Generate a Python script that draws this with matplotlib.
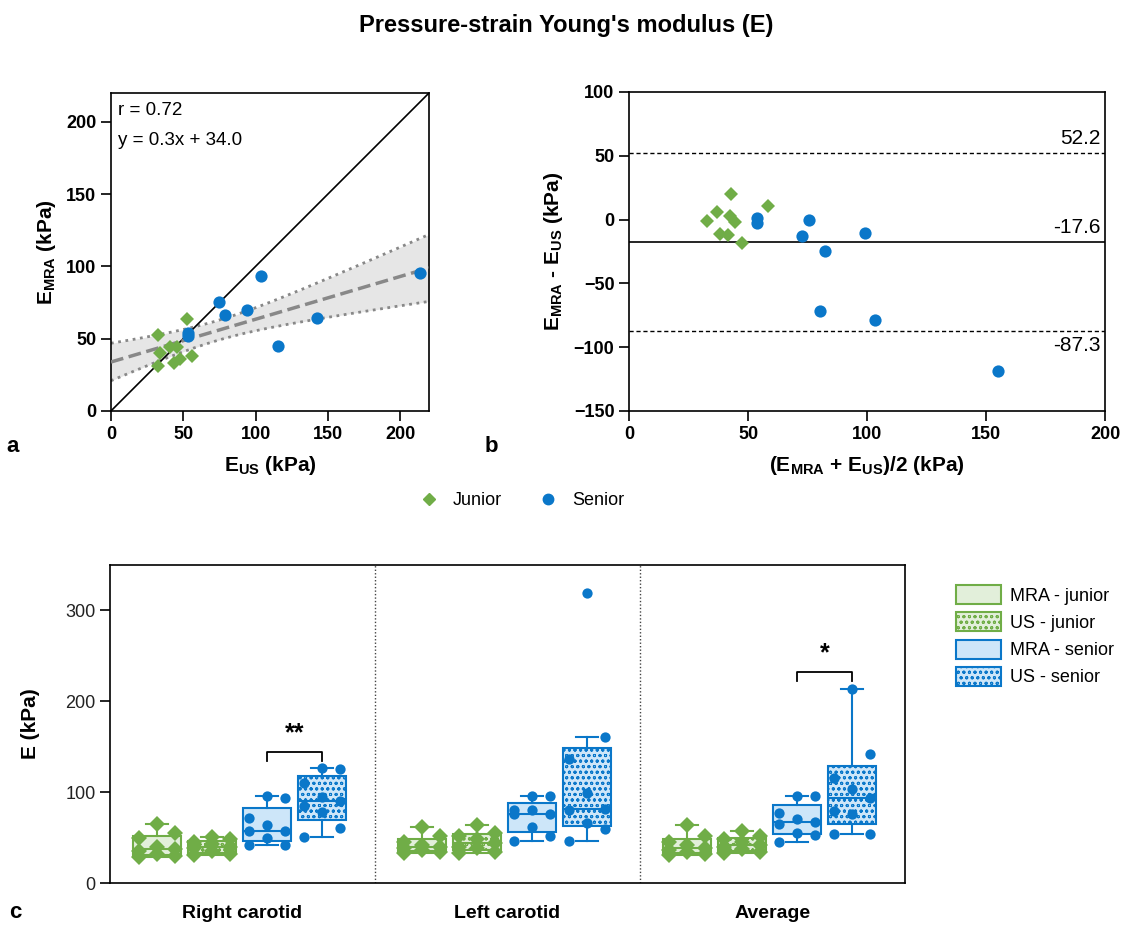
import numpy as np
import matplotlib.pyplot as plt
from matplotlib.patches import Patch
from matplotlib.lines import Line2D

plt.rcParams['font.family'] = ['Liberation Sans', 'DejaVu Sans']
plt.rcParams['mathtext.fontset'] = 'custom'
plt.rcParams['mathtext.rm'] = 'Liberation Sans'
plt.rcParams['mathtext.bf'] = 'Liberation Sans:bold'
plt.rcParams['hatch.linewidth'] = 0.7

GREEN = '#70ad47'
BLUE = '#0a77c9'
LGREEN = '#e2efda'
LBLUE = '#cde6f9'

# panel a: E_US vs E_MRA
us_junior = [52.8, 32.3, 40.8, 45.9, 33.9, 55.8, 43.6, 47.7, 32.7]
mra_junior = [63.6, 52.6, 44.5, 44.5, 39.9, 38.0, 33.0, 35.8, 31.3]
us_senior = [103.8, 213.8, 74.9, 79.1, 94.1, 142.3, 115.8, 53.5, 53.5]
mra_senior = [93.4, 95.3, 75.6, 66.4, 69.9, 64.1, 45.0, 54.2, 51.9]
fit_text = ['r = 0.72', 'y = 0.3x + 34.0']

# panel b: Bland-Altman
ba_mean_junior = [42.7, 58.4, 36.8, 32.6, 42.4, 44.5, 38.2, 41.7, 47.3]
ba_diff_junior = [19.6, 10.2, 6.0, -1.0, 2.6, -2.1, -11.0, -12.5, -18.3]
ba_mean_senior = [53.6, 53.6, 75.6, 72.8, 99.0, 82.2, 80.1, 103.2, 155.0]
ba_diff_senior = [1.3, -2.6, 0.0, -13.1, -10.4, -24.8, -71.3, -78.4, -118.6]
ba_bias = -17.6
ba_upper = 52.2
ba_lower = -87.3

# panel c: E per group
groups = ['Right carotid', 'Left carotid', 'Average']
series = ['MRA - junior', 'US - junior', 'MRA - senior', 'US - senior']
values = {
    'Right carotid': [
        [65, 55, 49, 40, 37, 35, 32, 30, 29],
        [51, 48, 45, 43, 40, 38, 35, 32, 31],
        [95.6, 94, 71.8, 63.6, 57, 57, 49.7, 42.3, 42.3],
        [126.1, 125, 109.6, 94.5, 90.1, 84.6, 78.4, 60.7, 50.4],
    ],
    'Left carotid': [
        [62, 52, 45, 42, 40, 38, 36, 34, 33],
        [64, 55, 52, 48, 44, 40, 38, 34, 33],
        [95.6, 95.6, 80.2, 79.8, 75.4, 75.4, 61.4, 51.5, 46],
        [318.7, 161.1, 136.8, 98.6, 80.9, 80.2, 65.5, 58.9, 46],
    ],
    'Average': [
        [64, 52, 45, 42, 38, 36, 34, 32, 31],
        [57, 52, 48, 45, 42, 40, 37, 34, 33],
        [95.9, 95.6, 76.5, 69.9, 66.9, 64.4, 55.2, 52.3, 45.3],
        [214, 141.6, 115.9, 103.7, 93.8, 79, 75.4, 53.4, 53.4],
    ],
}


def box_stats(v):
    v = np.sort(np.asarray(v, float))
    q1, med, q3 = np.percentile(v, [25, 50, 75], method='weibull')
    iqr = q3 - q1
    lo = v[v >= q1 - 1.5 * iqr].min()
    hi = v[v <= q3 + 1.5 * iqr].max()
    return dict(med=med, q1=q1, q3=q3, whislo=lo, whishi=hi, fliers=[])


fig = plt.figure(figsize=(11.32, 9.25), dpi=100)
fig.text(0.5, 0.972, "Pressure-strain Young's modulus (E)", ha='center', va='center',
         fontsize=17, fontweight='bold')

# ---------- panel a ----------
ax1 = fig.add_axes([0.098, 0.5557, 0.281, 0.3438])
x_all = np.array(us_junior + us_senior)
y_all = np.array(mra_junior + mra_senior)
slope, intercept = np.polyfit(x_all, y_all, 1)
n = len(x_all)
resid = y_all - (slope * x_all + intercept)
s = np.sqrt(np.sum(resid ** 2) / (n - 2))
xs = np.linspace(0, 220, 200)
se = s * np.sqrt(1 / n + (xs - x_all.mean()) ** 2 / np.sum((x_all - x_all.mean()) ** 2))
t = 2.12
yfit = slope * xs + intercept
ax1.fill_between(xs, yfit - t * se, yfit + t * se, color='#e6e6e6', lw=0, zorder=1)
ax1.plot(xs, yfit + t * se, ':', color='#888888', lw=2, zorder=2)
ax1.plot(xs, yfit - t * se, ':', color='#888888', lw=2, zorder=2)
ax1.plot(xs, yfit, '--', color='#888888', lw=2.5, zorder=3)
ax1.plot([0, 220], [0, 220], color='black', lw=1.2, zorder=2)
ax1.plot(us_junior, mra_junior, 'D', color=GREEN, ms=6.8, mew=0, zorder=4)
ax1.plot(us_senior, mra_senior, 'o', color=BLUE, ms=8.8, mew=0, zorder=4)
ax1.text(5, 208, fit_text[0], fontsize=13.5, va='center')
ax1.text(5, 187, fit_text[1], fontsize=13.5, va='center')
ax1.set_xlim(0, 220)
ax1.set_ylim(0, 220)
ax1.set_xticks([0, 50, 100, 150, 200])
ax1.set_yticks([0, 50, 100, 150, 200])
ax1.set_xlabel(r'$\mathbf{E_{US}}$ (kPa)', fontsize=15, fontweight='bold', labelpad=8)
ax1.set_ylabel(r'$\mathbf{E_{MRA}}$ (kPa)', fontsize=15, fontweight='bold', labelpad=6)

# ---------- panel b ----------
ax2 = fig.add_axes([0.5557, 0.5557, 0.4205, 0.345])
ax2.axhline(ba_upper, color='black', ls=(0, (3, 2)), lw=1)
ax2.axhline(ba_lower, color='black', ls=(0, (3, 2)), lw=1)
ax2.axhline(ba_bias, color='black', lw=1.2)
ax2.plot(ba_mean_junior, ba_diff_junior, 'D', color=GREEN, ms=6.8, mew=0, zorder=4)
ax2.plot(ba_mean_senior, ba_diff_senior, 'o', color=BLUE, ms=8.8, mew=0, zorder=4)
ax2.text(198, ba_upper + 4, '%.1f' % ba_upper, ha='right', va='bottom', fontsize=15)
ax2.text(198, ba_bias + 4, '%.1f' % ba_bias, ha='right', va='bottom', fontsize=15)
ax2.text(198, ba_lower - 4, '%.1f' % ba_lower, ha='right', va='top', fontsize=15)
ax2.set_xlim(0, 200)
ax2.set_ylim(-150, 100)
ax2.set_xticks([0, 50, 100, 150, 200])
ax2.set_yticks([100, 50, 0, -50, -100, -150])
ax2.set_xlabel(r'($\mathbf{E_{MRA}}$ + $\mathbf{E_{US}}$)/2 (kPa)', fontsize=15,
               fontweight='bold', labelpad=8)
ax2.set_ylabel(r'$\mathbf{E_{MRA}}$ - $\mathbf{E_{US}}$ (kPa)', fontsize=15,
               fontweight='bold', labelpad=6)

for ax in [ax1, ax2]:
    ax.tick_params(labelsize=13, length=7, width=1.2)
    for lab in ax.get_xticklabels() + ax.get_yticklabels():
        lab.set_fontweight('bold')
    for sp in ax.spines.values():
        sp.set_linewidth(1.2)

fig.legend([Line2D([], [], marker='D', ls='', color=GREEN, ms=6),
            Line2D([], [], marker='o', ls='', color=BLUE, ms=7.5)],
           ['Junior', 'Senior'], loc='center', bbox_to_anchor=(0.457, 0.459),
           ncol=2, frameon=False, fontsize=13, handletextpad=0.3, columnspacing=1.6)

# ---------- panel c ----------
ax3 = fig.add_axes([0.0972, 0.0454, 0.7023, 0.3438])
face = [LGREEN, LGREEN, LBLUE, LBLUE]
edge = [GREEN, GREEN, BLUE, BLUE]
hatch = [None, 'ooo', None, 'ooo']
marker = ['D', 'D', 'o', 'o']
msize = [7.8, 7.8, 7.4, 7.4]
gw = 4.82
jit = [-0.33, 0.33, 0.0]
positions = {}
for g, grp in enumerate(groups):
    for k in range(4):
        p = g * gw + 0.86 + k
        positions[(g, k)] = p
        st = box_stats(values[grp][k])
        ax3.bxp([st], positions=[p], widths=0.87, patch_artist=True, showfliers=False,
                manage_ticks=False, capwidths=0.4,
                boxprops=dict(facecolor=face[k], edgecolor=edge[k], hatch=hatch[k], lw=1.5),
                medianprops=dict(color=edge[k], lw=1.5),
                whiskerprops=dict(color=edge[k], lw=1.5),
                capprops=dict(color=edge[k], lw=1.5))
        v = np.sort(values[grp][k])
        off = np.array([jit[i % 3] for i in range(len(v))])
        ax3.plot(p + off, v, marker[k], color=edge[k], ms=msize[k], mew=0, ls='', zorder=5)

for g in range(1, 3):
    ax3.axvline(g * gw, color='#444444', ls=(0, (1, 1.5)), lw=1)

# significance brackets
for g, ytop, label in [(0, 144, '**'), (2, 232, '*')]:
    xa, xb = positions[(g, 2)], positions[(g, 3)]
    ax3.plot([xa, xa, xb, xb], [ytop - 10, ytop, ytop, ytop - 10], color='black', lw=1.3)
    ax3.text((xa + xb) / 2, ytop + 8, label, ha='center', va='bottom', fontsize=18,
             fontweight='bold')

ax3.set_xlim(0, 3 * gw)
ax3.set_ylim(0, 350)
ax3.set_yticks([0, 100, 200, 300])
ax3.set_xticks([g * gw + gw / 2 for g in range(3)])
ax3.set_xticklabels(groups, fontsize=14, fontweight='bold')
ax3.tick_params(axis='x', length=0, pad=16)
ax3.tick_params(axis='y', labelsize=13, length=7, width=1.2, labelcolor='#222222')
ax3.set_ylabel('E (kPa)', fontsize=15, fontweight='bold', labelpad=18)
for sp in ax3.spines.values():
    sp.set_linewidth(1.2)

handles = [Patch(facecolor=face[k], edgecolor=edge[k], hatch=hatch[k], lw=1.5) for k in range(4)]
fig.legend(handles, series, loc='upper left', bbox_to_anchor=(0.83, 0.385), frameon=False,
           fontsize=13, handlelength=2.5, handleheight=1.25, labelspacing=0.42,
           handletextpad=0.5)

fig.text(0.006, 0.517, 'a', fontsize=16, fontweight='bold', va='center')
fig.text(0.428, 0.517, 'b', fontsize=16, fontweight='bold', va='center')
fig.text(0.008, 0.014, 'c', fontsize=16, fontweight='bold', va='center')

fig.savefig('out.png', dpi=100)
